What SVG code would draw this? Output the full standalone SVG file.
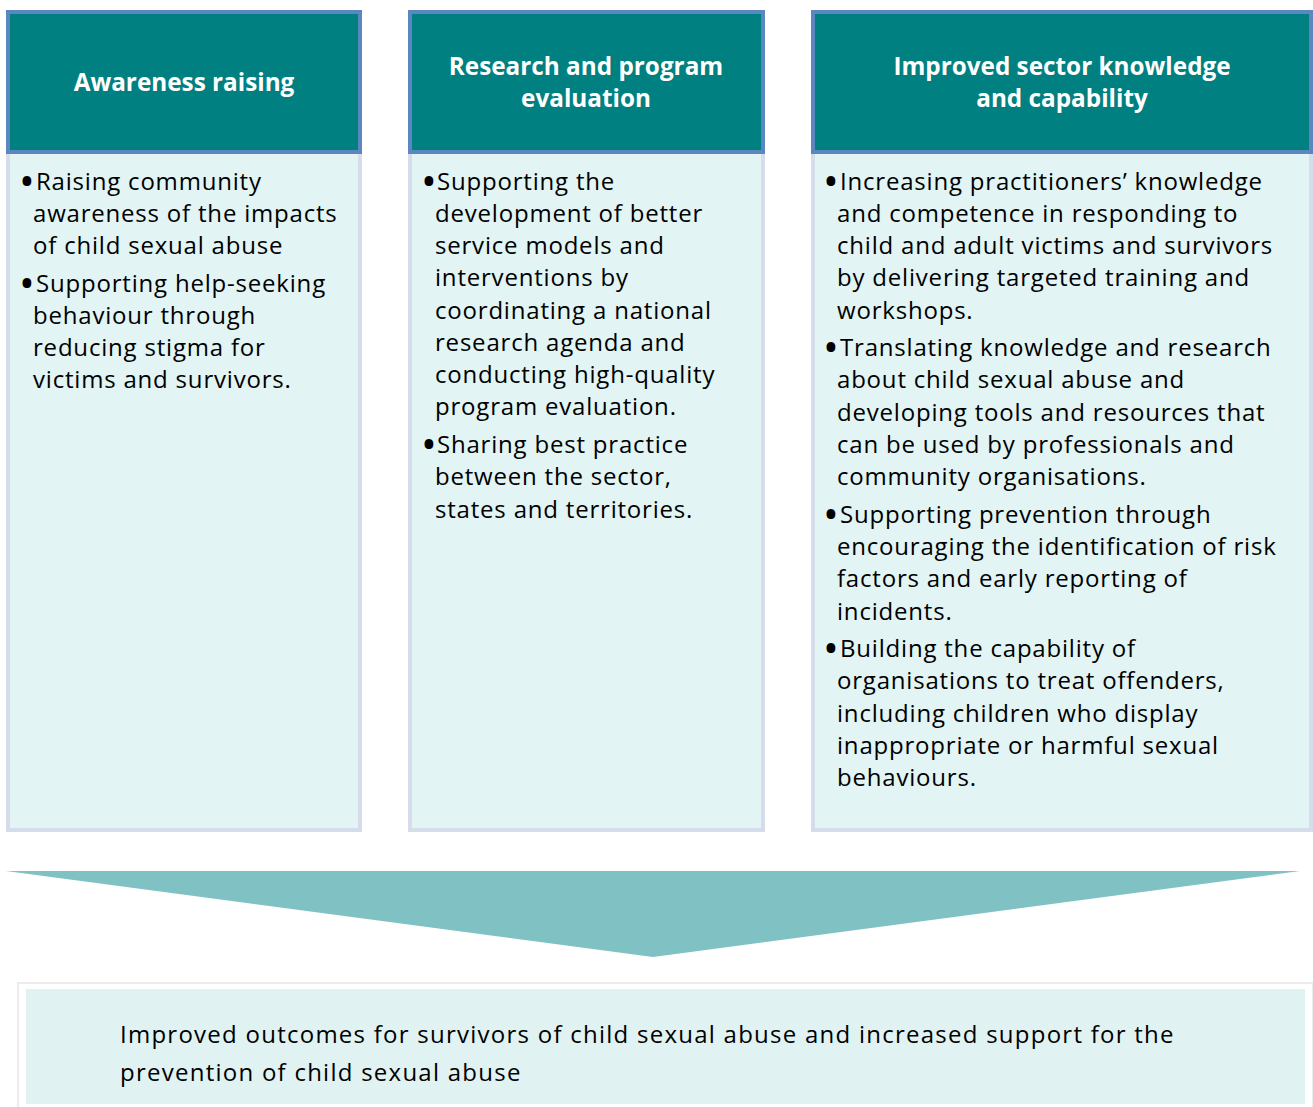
<svg xmlns="http://www.w3.org/2000/svg" width="1313" height="1107" viewBox="0 0 1313 1107">
<style>
.hdr{fill:#008080;stroke:#5b86c0;stroke-width:4}
.body{fill:#e2f4f4;stroke:#d5dcea;stroke-width:4}
.ht{font-family:"Open Sans","Liberation Sans",sans-serif;font-weight:bold;font-size:24.3px;fill:#ffffff;text-anchor:middle}
.bt{font-family:"Open Sans","Liberation Sans",sans-serif;font-size:24px;letter-spacing:0.8px;fill:#000000}
.bl{font-family:"Open Sans","Liberation Sans",sans-serif;font-size:42px;fill:#000000}
.ot{font-family:"Open Sans","Liberation Sans",sans-serif;font-size:24px;letter-spacing:1.25px;fill:#000000}
</style>
<rect width="1313" height="1107" fill="#ffffff"/>
<g id="awareness">
<rect class="body" x="8" y="152" width="352" height="678"/>
<rect class="hdr" x="8" y="12" width="352" height="140"/>
<text class="ht" x="184" y="91">Awareness raising</text>
<text class="bl" x="19" y="196">•</text>
<text class="bl" x="19" y="298">•</text>
<text class="bt"><tspan x="36" y="190">Raising community</tspan><tspan x="33" y="222">awareness of the impacts</tspan><tspan x="33" y="254">of child sexual abuse</tspan><tspan x="36" y="292">Supporting help-seeking</tspan><tspan x="33" y="324">behaviour through</tspan><tspan x="33" y="356">reducing stigma for</tspan><tspan x="33" y="388">victims and survivors.</tspan></text>
</g>
<g id="research">
<rect class="body" x="410" y="152" width="353" height="678"/>
<rect class="hdr" x="410" y="12" width="353" height="140"/>
<text class="ht"><tspan x="586" y="75">Research and program</tspan><tspan x="586" y="107">evaluation</tspan></text>
<text class="bl" x="421" y="196">•</text>
<text class="bl" x="421" y="459">•</text>
<text class="bt"><tspan x="437" y="190">Supporting the</tspan><tspan x="435" y="222">development of better</tspan><tspan x="435" y="254">service models and</tspan><tspan x="435" y="286">interventions by</tspan><tspan x="435" y="319">coordinating a national</tspan><tspan x="435" y="351">research agenda and</tspan><tspan x="435" y="383">conducting high-quality</tspan><tspan x="435" y="415">program evaluation.</tspan><tspan x="437" y="453">Sharing best practice</tspan><tspan x="435" y="485">between the sector,</tspan><tspan x="435" y="518">states and territories.</tspan></text>
</g>
<g id="sector">
<rect class="body" x="813" y="152" width="498" height="678"/>
<rect class="hdr" x="813" y="12" width="498" height="140"/>
<text class="ht"><tspan x="1062" y="75">Improved sector knowledge</tspan><tspan x="1062" y="107">and capability</tspan></text>
<text class="bl" x="823" y="196">•</text>
<text class="bl" x="823" y="362">•</text>
<text class="bl" x="823" y="529">•</text>
<text class="bl" x="823" y="663">•</text>
<text class="bt"><tspan x="840" y="190">Increasing practitioners’ knowledge</tspan><tspan x="837" y="222">and competence in responding to</tspan><tspan x="837" y="254">child and adult victims and survivors</tspan><tspan x="837" y="286">by delivering targeted training and</tspan><tspan x="837" y="319">workshops.</tspan><tspan x="840" y="356">Translating knowledge and research</tspan><tspan x="837" y="388">about child sexual abuse and</tspan><tspan x="837" y="421">developing tools and resources that</tspan><tspan x="837" y="453">can be used by professionals and</tspan><tspan x="837" y="485">community organisations.</tspan><tspan x="840" y="523">Supporting prevention through</tspan><tspan x="837" y="555">encouraging the identification of risk</tspan><tspan x="837" y="587">factors and early reporting of</tspan><tspan x="837" y="620">incidents.</tspan><tspan x="840" y="657">Building the capability of</tspan><tspan x="837" y="689">organisations to treat offenders,</tspan><tspan x="837" y="722">including children who display</tspan><tspan x="837" y="754">inappropriate or harmful sexual</tspan><tspan x="837" y="786">behaviours.</tspan></text>
</g>
<g id="connectors">
<polygon points="6,871 1300,871 653,957" fill="#80c1c4"/>
</g>
<g id="outcome">
<rect x="18" y="983" width="1295" height="130" fill="#ffffff" stroke="#ececec" stroke-width="2"/>
<rect x="26" y="989" width="1279" height="115" fill="#e0f3f2"/>
<text class="ot"><tspan x="120" y="1043">Improved outcomes for survivors of child sexual abuse and increased support for the</tspan><tspan x="120" y="1081">prevention of child sexual abuse</tspan></text>
</g>
</svg>
